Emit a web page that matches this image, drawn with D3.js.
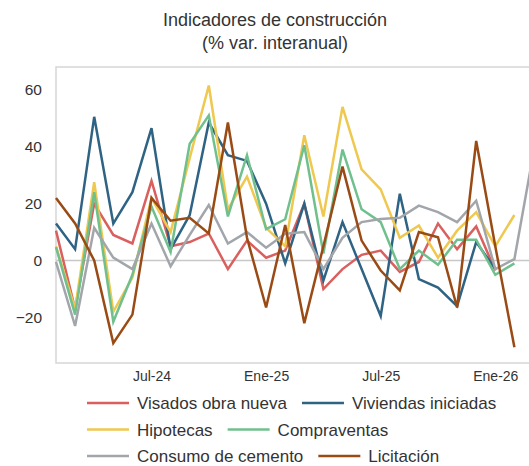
<!DOCTYPE html>
<html>
<head>
<meta charset="utf-8">
<script src="https://cdn.jsdelivr.net/npm/d3@7"></script>
<style>
    body { margin: 0; background: #fff; }
    svg { display: block; font-family: 'Liberation Sans', Arial, sans-serif; }
</style>
</head>
<body>
<svg id="chart"></svg>
<script>
const months = ['Feb-24', 'Mar-24', 'Abr-24', 'May-24', 'Jun-24', 'Jul-24', 'Ago-24', 'Sep-24', 'Oct-24', 'Nov-24', 'Dic-24',
    'Ene-25', 'Feb-25', 'Mar-25', 'Abr-25', 'May-25', 'Jun-25', 'Jul-25', 'Ago-25', 'Sep-25', 'Oct-25', 'Nov-25', 'Dic-25',
    'Ene-26', 'Feb-26', 'Mar-26'];
const xTicks = ['Jul-24', 'Ene-25', 'Jul-25', 'Ene-26'];
const yTicks = [-20, 0, 20, 40, 60];

const visados = [10.5, -17, 20, 9, 6, 28, 5, 6.5, 9.5, -3, 7, 1, 3.5, 20, -10, -3, 2, 3.5, -4, -0.5, 13, 4, 12, -3.5, null, null];
const viviendas = [13, 4, 50.5, 13, 24, 46.5, 4, 16, 48.5, 37, 35, 20, -1, 20, -7, 13.5, -3, -19.5, 23.5, -6.5, -9.5, -16, 6.5, -3, null, null];
const hipotecas = [5, -17, 27.5, -18, -6, 22, 10, 36, 61.5, 18, 29.5, 11.5, 5, 44, 15.5, 54, 32, 25, 8, 12.3, 1, 10.5, 17, 5, 16, null];
const compraventas = [4.7, -19, 24, -21.5, -5, 19, 3, 41, 51, 15.5, 37, 11, 14.5, 40.5, 2.5, 39, 18, 13.5, -3, 3.5, -1.5, 7.3, 7.3, -5, -1, null];
const cemento = [-0.5, -23, 11.5, 1, -3, 13, -2, 9, 19.5, 6, 10, 4.5, 9.4, 10, -3, 8, 13.5, 14.6, 15, 19.3, 17, 13.5, 21, -3, 0.5, 38];
const licitacion = [22, 13, 0, -29, -19, 22, 14, 15, 9.5, 48.5, 8, -16.5, 12.5, -22, 5, 33, 7, -3.5, -10.5, 10, 8.2, -16.5, 42, 5, -30.5, null];

const seriesNames = ['Visados obra nueva', 'Viviendas iniciadas', 'Hipotecas', 'Compraventas', 'Consumo de cemento', 'Licitación'];
const seriesValues = [visados, viviendas, hipotecas, compraventas, cemento, licitacion];
const colors = ['#d9605e', '#2f6384', '#efc84f', '#70c08e', '#a2a6ab', '#9a4b15'];

const width = 529;
const height = 466;
const margin = { top: 67, right: -5, bottom: 103, left: 56 };

const svg = d3.select('#chart')
    .attr('width', width)
    .attr('height', height);

const x = d3.scalePoint()
    .domain(months)
    .range([margin.left, margin.left + 25 * 19.1]);

const y = d3.scaleLinear()
    .domain([-36, 68])
    .range([height - margin.bottom, margin.top]);

// title
const title = svg.append('g')
    .attr('text-anchor', 'middle')
    .attr('font-size', 18)
    .attr('fill', '#333');
title.append('text')
    .attr('x', 275)
    .attr('y', 26)
    .text('Indicadores de construcción');
title.append('text')
    .attr('x', 275)
    .attr('y', 49)
    .text('(% var. interanual)');

// frame and zero line
svg.append('rect')
    .attr('x', margin.left)
    .attr('y', margin.top)
    .attr('width', width + 20 - margin.left)
    .attr('height', height - margin.bottom - margin.top)
    .attr('fill', 'none')
    .attr('stroke', '#d6d6d6')
    .attr('stroke-width', 1.5);

svg.append('line')
    .attr('x1', margin.left)
    .attr('x2', width + 20)
    .attr('y1', y(0))
    .attr('y2', y(0))
    .attr('stroke', '#c8c8c8')
    .attr('stroke-width', 1.5);

// axes
const yAxis = svg.append('g')
    .attr('transform', `translate(${margin.left - 14},0)`)
    .call(d3.axisLeft(y).tickValues(yTicks).tickSize(0).tickPadding(0));
yAxis.select('.domain').remove();
yAxis.selectAll('text')
    .attr('font-size', 15.5)
    .attr('fill', '#333')
    .attr('font-family', null);

const xAxis = svg.append('g')
    .attr('transform', `translate(0,${height - margin.bottom + 8})`)
    .call(d3.axisBottom(x).tickValues(xTicks).tickSize(0).tickPadding(0));
xAxis.select('.domain').remove();
xAxis.selectAll('text')
    .attr('font-size', 14)
    .attr('fill', '#333')
    .attr('font-family', null);

// lines
const line = d3.line()
    .defined(d => d.v !== null)
    .x(d => x(d.m))
    .y(d => y(d.v));

const plot = svg.append('g');
seriesValues.forEach((vals, i) => {
    plot.append('path')
        .datum(vals.map((v, j) => ({ m: months[j], v: v })))
        .attr('fill', 'none')
        .attr('stroke', colors[i])
        .attr('stroke-width', 2.5)
        .attr('d', line);
});

// legend
const legendRows = [[0, 1], [2, 3], [4, 5]];
const legend = svg.append('g')
    .attr('font-size', 17)
    .attr('fill', '#333');

legendRows.forEach((row, r) => {
    let cx = 87;
    const cy = 403 + r * 26.5;
    row.forEach(i => {
        legend.append('line')
            .attr('x1', cx)
            .attr('x2', cx + 42)
            .attr('y1', cy)
            .attr('y2', cy)
            .attr('stroke', colors[i])
            .attr('stroke-width', 2.5);
        const t = legend.append('text')
            .attr('x', cx + 50)
            .attr('y', cy + 6)
            .text(seriesNames[i]);
        cx += 50 + t.node().getComputedTextLength() + 15;
    });
});
</script>
</body>
</html>
